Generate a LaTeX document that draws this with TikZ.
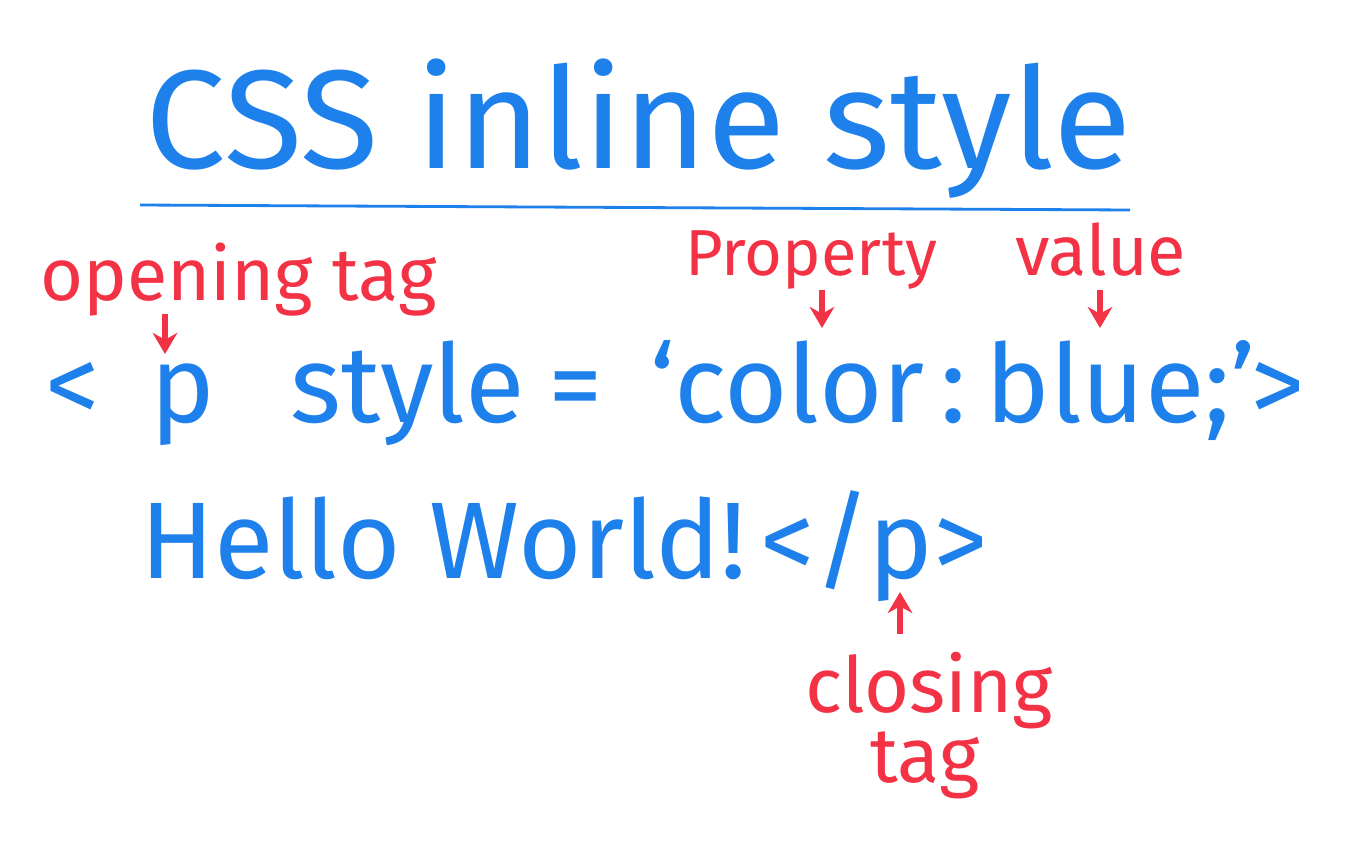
\documentclass[tikz,border=0pt]{standalone}
\usepackage{fontspec}
\setmainfont{Fira Sans}
\usetikzlibrary{arrows.meta}
\definecolor{penblue}{RGB}{30,128,235}
\definecolor{penred}{RGB}{244,50,70}
\tikzset{
  bluetext/.style={text=penblue, inner sep=0pt, anchor=base west, font=\fontsize{62}{70}\selectfont},
  redtext/.style={text=penred, inner sep=0pt, anchor=base west, font=\fontsize{40}{48}\selectfont},
  tagarrow/.style={draw=penred, line width=3pt, -{Stealth[length=12pt,width=14pt]}}
}
\begin{document}
\begin{tikzpicture}[x=0.02cm, y=-0.02cm]
    \useasboundingbox (0,0) rectangle (1351,865);

    % title and underline
    \node[bluetext, font=\fontsize{80}{90}\selectfont, xscale=1.02] (title) at (145,168) {CSS inline style};
    \coordinate (ulL) at (140,205);
    \coordinate (ulR) at (1130,210);
    \draw[penblue, line width=1.6pt] (ulL) -- (ulR);

    % first code line
    \node[bluetext] (lt) at (45,422) {<};
    \node[bluetext] (pOpen) at (150,422) {p};
    \node[bluetext] (sty) at (290,422) {style};
    \node[bluetext] (eq) at (548,422) {=};
    \node[bluetext] (col) at (650,422) {‘color};
    \node[bluetext] (colon) at (940,422) {:};
    \node[bluetext] (blu) at (985,422) {blue;’};
    \node[bluetext] (gt) at (1250,422) {>};

    % second code line
    \node[bluetext] (hello) at (140,578) {Hello World!};
    \node[bluetext] (pClose) at (760,578) {</p>};

    % red notes
    \node[redtext, font=\fontsize{42}{48}\selectfont] (optag) at (40,300) {opening tag};
    \node[redtext, font=\fontsize{37}{44}\selectfont] (prop) at (685,275) {Property};
    \node[redtext] (val) at (1015,275) {value};
    \node[redtext, font=\fontsize{44}{50}\selectfont] (clos) at (805,712) {closing};
    \node[redtext, font=\fontsize{44}{50}\selectfont] (ctag) at (870,782) {tag};

    % arrows
    \coordinate (a1s) at (165,314);
    \coordinate (a1e) at (165,354);
    \coordinate (a2s) at (822,290);
    \coordinate (a2e) at (822,328);
    \coordinate (a3s) at (1100,290);
    \coordinate (a3e) at (1100,328);
    \coordinate (a4s) at (900,634);
    \coordinate (a4e) at (900,592);
    \draw[tagarrow] (a1s) -- (a1e);
    \draw[tagarrow] (a2s) -- (a2e);
    \draw[tagarrow] (a3s) -- (a3e);
    \draw[tagarrow] (a4s) -- (a4e);
\end{tikzpicture}
\end{document}
